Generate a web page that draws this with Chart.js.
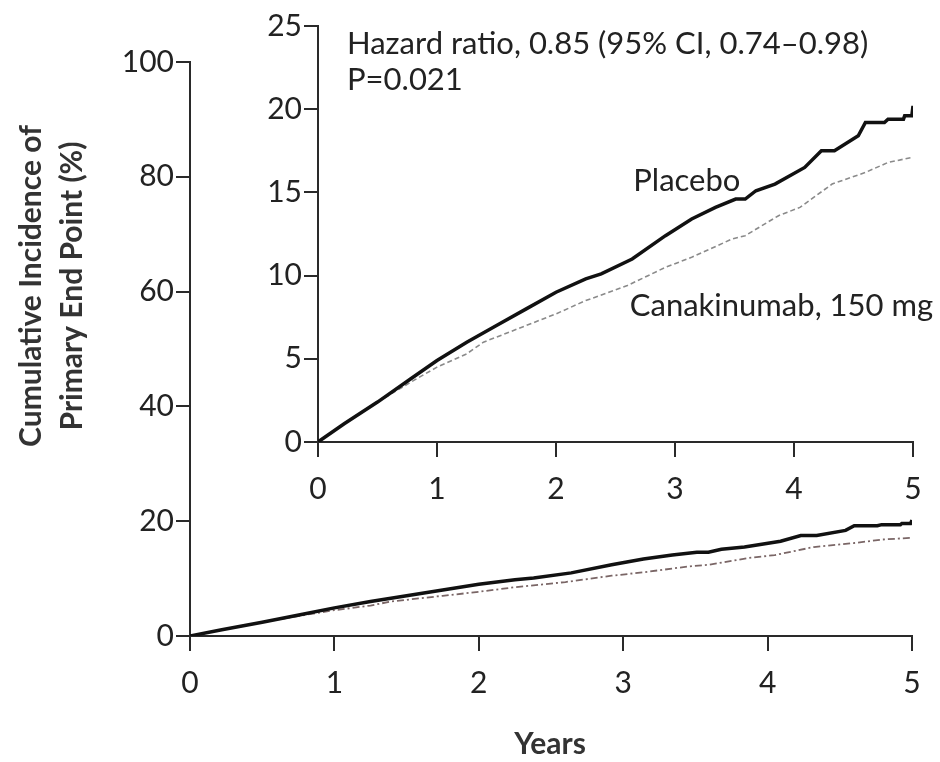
<!DOCTYPE html>
<html lang="en">
<head>
<meta charset="UTF-8">
<title>Cumulative Incidence of Primary End Point</title>
<script src="https://cdn.jsdelivr.net/npm/chart.js"></script>
<style>
    body { margin: 0; background: #fff; }
    .janela { position: relative; width: 940px; height: 762px; }
    #principal { position: absolute; left: 0; top: 0; }
    #detalhe { position: absolute; left: 250px; top: 0; }
</style>
</head>
<body>
<div class="janela">
    <canvas id="principal" width="940" height="762"></canvas>
    <canvas id="detalhe" width="690" height="510"></canvas>
</div>

<script>
    // Kaplan-Meier style curves, years vs cumulative incidence (%)
    const placeboYears = [0, 0.22, 0.50, 0.78, 1.0, 1.25, 1.50, 1.75, 2.0, 2.25, 2.38, 2.64, 2.92, 3.14, 3.34, 3.51, 3.59, 3.68, 3.84, 4.09, 4.23, 4.34, 4.54, 4.60, 4.76, 4.79, 4.92, 4.93, 4.99, 5.0];
    const placeboPct   = [0, 1.1, 2.4, 3.8, 4.9, 6.0, 7.0, 8.0, 9.0, 9.8, 10.1, 11.0, 12.4, 13.4, 14.1, 14.6, 14.6, 15.1, 15.5, 16.5, 17.5, 17.5, 18.4, 19.2, 19.2, 19.4, 19.4, 19.6, 19.6, 20.2];

    const canaYears = [0, 0.22, 0.50, 0.78, 1.0, 1.25, 1.39, 1.75, 2.0, 2.25, 2.60, 2.92, 3.14, 3.48, 3.59, 3.87, 4.05, 4.32, 4.60, 4.79, 4.99];
    const canaPct   = [0, 1.1, 2.4, 3.6, 4.5, 5.3, 6.0, 7.0, 7.7, 8.5, 9.4, 10.5, 11.1, 12.2, 12.4, 13.6, 14.1, 15.5, 16.2, 16.8, 17.1];

    const FONTE = 'Lato, "Open Sans", sans-serif';
    const COR_EIXO = '#2a2a2a';

    function pontos(xs, ys) {
        var out = [];
        for (var i = 0; i < xs.length; i++) {
            out.push({ x: xs[i], y: ys[i] });
        }
        return out;
    }

    function eixo(min, max, passo, tamanho, padding, ajuste) {
        return {
            type: 'linear',
            min: min,
            max: max,
            afterBuildTicks: function (axis) {
                var t = [];
                for (var v = min; v <= max; v += passo) t.push({ value: v });
                axis.ticks = t;
            },
            afterFit: ajuste,
            border: { display: true, color: COR_EIXO, width: 2 },
            grid: { drawOnChartArea: false, drawTicks: true, tickLength: tamanho, color: COR_EIXO, lineWidth: 2 },
            ticks: { color: '#222', padding: padding, font: { family: FONTE, size: 30 } }
        };
    }

    // texts drawn onto the main chart: rotated y title and the x title
    const titulosPrincipal = {
        id: 'titulosPrincipal',
        afterDraw: function (chart) {
            var ctx = chart.ctx;
            ctx.save();
            ctx.fillStyle = '#333';
            ctx.font = 'bold 30px ' + FONTE;
            ctx.textAlign = 'center';
            ctx.textBaseline = 'middle';
            ctx.translate(51, 286);
            ctx.rotate(-Math.PI / 2);
            ctx.fillText('Cumulative Incidence of', 0, -20);
            ctx.fillText('Primary End Point (%)', 0, 21);
            ctx.restore();

            ctx.save();
            ctx.fillStyle = '#333';
            ctx.font = 'bold 30px ' + FONTE;
            ctx.textAlign = 'center';
            ctx.textBaseline = 'middle';
            var xs = chart.scales.x;
            ctx.fillText('Years', (xs.left + xs.right) / 2 - 1, 744);
            ctx.restore();
        }
    };

    new Chart(document.getElementById('principal').getContext('2d'), {
        type: 'line',
        data: {
            datasets: [{
                label: 'Placebo',
                data: pontos(placeboYears, placeboPct),
                borderColor: '#111',
                borderWidth: 3.5,
                pointRadius: 0,
                tension: 0
            }, {
                label: 'Canakinumab, 150 mg',
                data: pontos(canaYears, canaPct),
                borderColor: '#7a6666',
                borderWidth: 1.8,
                borderDash: [7, 3, 2, 3],
                pointRadius: 0,
                tension: 0
            }]
        },
        options: {
            responsive: false,
            animation: false,
            layout: { padding: { top: 62, right: 28, left: 0, bottom: 0 } },
            plugins: { legend: { display: false }, tooltip: { enabled: false } },
            scales: {
                x: eixo(0, 5, 1, 15, 14, function (a) { a.height = 126; }),
                y: eixo(0, 100, 20, 14, 2, function (a) { a.width = 190; })
            }
        },
        plugins: [titulosPrincipal]
    });

    // annotations inside the inset
    const textosDetalhe = {
        id: 'textosDetalhe',
        afterDraw: function (chart) {
            var ctx = chart.ctx;
            var sx = chart.scales.x, sy = chart.scales.y;
            ctx.save();
            ctx.fillStyle = '#222';
            ctx.font = '31px ' + FONTE;
            ctx.textAlign = 'left';
            ctx.textBaseline = 'middle';
            ctx.fillText('Hazard ratio, 0.85 (95% CI, 0.74\u20130.98)', sx.left + 29, 44);
            ctx.fillText('P=0.021', sx.left + 29, 80);
            ctx.fillText('Placebo', sx.getPixelForValue(2.65), sy.getPixelForValue(15.7));
            ctx.fillText('Canakinumab, 150 mg', sx.getPixelForValue(2.62), sy.getPixelForValue(8.2));
            ctx.restore();
        }
    };

    new Chart(document.getElementById('detalhe').getContext('2d'), {
        type: 'line',
        data: {
            datasets: [{
                label: 'Placebo',
                data: pontos(placeboYears, placeboPct),
                borderColor: '#111',
                borderWidth: 3.5,
                pointRadius: 0,
                tension: 0
            }, {
                label: 'Canakinumab, 150 mg',
                data: pontos(canaYears, canaPct),
                borderColor: '#8a8a8a',
                borderWidth: 1.6,
                borderDash: [5, 3],
                pointRadius: 0,
                tension: 0
            }]
        },
        options: {
            responsive: false,
            animation: false,
            layout: { padding: { top: 26, right: 27, left: 0, bottom: 0 } },
            plugins: { legend: { display: false }, tooltip: { enabled: false } },
            scales: {
                x: eixo(0, 5, 1, 15, 14, function (a) { a.height = 68; }),
                y: eixo(0, 25, 5, 14, 2, function (a) { a.width = 68; })
            }
        },
        plugins: [textosDetalhe]
    });
</script>
</body>
</html>
